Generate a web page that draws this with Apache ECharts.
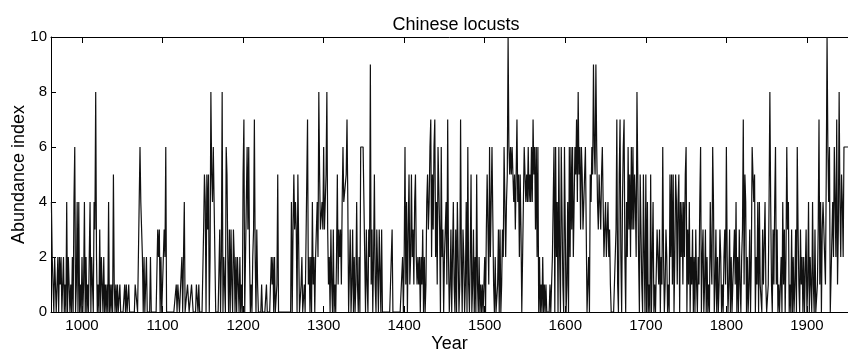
<!DOCTYPE html>
<html>
<head>
<meta charset="utf-8">
<script src="https://cdn.jsdelivr.net/npm/echarts@6/dist/echarts.min.js"></script>
<style>
html,body{margin:0;padding:0;background:#fff;}
#chart{width:848px;height:352px;}
</style>
</head>
<body>
<div id="chart"></div>
<script>
// Yearly abundance index, one array per century (first year of each array noted)
const startYear = 962;
const y0962 = [4,2,2,0,2,1,0,1,2,0, 2,1,2,0,1,2,0,1,0,4, 0,2,1,0,1,0,2,0,4,6, 0,1,4,0,4,0,1,0];
const y1000 = [2,0,1,4,0,2,0,1,0,2, 4,0,2,1,0,4,3,8,2,0, 1,0,3,0,2,1,0,2,0,1, 0,1,0,4,0,1,0,1,0,5,
               1,0,1,0,1,0,0,1,0,0, 0,0,0,1,0,1,0,0,1,0, 0,0,0,0,0,0,1,1,1,0, 0,4,6,4,3,2,0,2,0,0,
               2,0,0,0,0,2,0,0,0,0, 0,0,0,0,3,2,3,0,2,0];
const y1100 = [0,0,3,2,6,0,0,0,0,0, 0,0,0,0,0,0,0,1,0,1, 1,0,0,0,2,0,2,4,0,0, 0,1,1,0,0,0,1,1,0,0,
               0,0,1,1,0,1,0,0,0,0, 0,3,5,4,0,5,3,5,0,2, 8,5,4,6,4,2,0,0,0,0, 0,3,0,2,8,0,2,1,0,6,
               5,2,0,3,0,3,1,0,3,2, 0,2,0,2,1,0,2,0,1,0];
const y1200 = [5,7,0,2,4,6,3,6,2,0, 1,0,2,3,7,2,0,3,1,0, 0,0,0,1,0,0,0,0,0,1, 0,0,0,0,0,2,1,2,0,2,
               0,0,1,5,0,0,0,0,0,0, 0,0,0,0,0,0,0,0,0,0, 4,0,3,5,3,4,3,0,5,5, 0,0,1,2,0,0,1,0,0,0,
               7,1,2,0,2,0,4,1,2,0, 2,3,4,2,8,5,3,3,4,3];
const y1300 = [6,3,3,5,8,3,1,2,0,3, 1,0,3,0,1,0,2,5,1,3, 2,3,1,4,6,4,4,4,5,7, 4,0,0,3,0,1,3,0,2,0,
               1,4,1,0,2,0,6,6,6,6, 6,2,0,3,1,0,3,2,9,1, 3,0,2,5,1,0,3,3,0,3, 3,0,3,0,0,0,0,0,0,0,
               0,0,0,0,0,3,0,0,0,0, 0,0,0,0,0,0,0,0,2,0];
const y1400 = [2,6,1,4,0,3,5,1,2,5, 2,3,1,4,5,2,1,2,1,2, 0,2,1,3,0,2,0,1,4,5, 3,4,6,7,2,5,3,6,7,2,
               4,1,6,6,3,0,6,2,3,0, 2,3,4,1,7,2,0,1,3,0, 2,4,1,0,3,0,4,2,0,1, 7,2,0,3,2,0,1,4,0,6,
               1,0,2,5,0,1,3,0,2,0, 5,1,0,2,0,1,0,1,0,1];
const y1500 = [2,0,3,5,5,1,6,2,4,6, 6,1,0,2,0,0,1,3,0,3, 0,1,3,2,6,4,2,4,5,10, 6,5,6,5,6,5,4,5,3,5,
               7,4,5,2,5,3,0,0,4,6, 5,4,5,4,6,4,5,4,6,4, 7,5,6,3,6,2,6,0,2,0, 1,0,2,0,1,0,1,0,0,0,
               0,1,0,0,2,4,6,0,6,2, 4,0,6,2,0,6,6,1,0,6];
const y1600 = [6,0,1,4,0,6,2,6,3,6, 2,4,6,5,7,4,8,5,6,3, 6,5,3,4,5,6,3,0,0,2, 0,5,4,6,5,9,6,5,9,6,
               4,3,5,4,3,5,6,4,2,3, 4,2,3,4,2,3,1,0,0,0, 0,0,0,3,7,1,0,5,7,2, 0,4,6,7,2,0,4,2,6,3,
               5,2,6,3,6,3,5,4,2,8, 5,2,0,5,3,1,0,5,2,0];
const y1700 = [5,0,4,0,1,0,5,0,2,4, 0,1,0,0,3,2,1,3,0,2, 1,6,2,0,1,3,2,0,1,0, 5,2,5,1,5,0,2,5,4,1,
               4,5,0,4,2,4,1,4,2,5, 6,0,3,1,4,0,2,1,3,0, 2,0,3,1,0,2,1,4,6,0, 2,3,0,1,3,0,2,0,1,0,
               4,2,1,6,4,0,1,3,0,2, 0,1,3,2,0,1,0,2,3,1];
const y1800 = [6,2,0,1,3,0,2,0,0,0, 3,1,4,0,2,0,3,1,0,2, 3,7,1,5,4,0,2,0,1,3, 0,2,6,5,4,5,0,2,1,4,
               0,4,1,1,0,3,1,1,4,1, 0,0,1,4,8,4,1,0,3,1, 4,6,1,3,0,1,0,0,2,0, 4,1,3,0,2,6,3,4,0,1,
               0,3,0,2,0,1,3,0,6,3, 1,0,3,1,2,0,2,0,0,3];
const y1900 = [0,1,4,0,2,1,0,4,1,0, 3,0,0,1,3,7,1,4,0,3, 4,4,4,1,5,10,6,4,6,0, 0,0,4,2,6,4,2,7,1,3,
               8,4,2,5,4,2,6,6,6,6, 6,6];
const tickYears = [1000,1100,1200,1300,1400,1500,1600,1700,1800,1900];
const yTicks = [0,2,4,6,8,10];

const values = [].concat(y0962,y1000,y1100,y1200,y1300,y1400,y1500,y1600,y1700,y1800,y1900);
const seriesData = values.map((v,i)=>[startYear+i, v]);

const font = 'Liberation Sans, Arial, Helvetica, sans-serif';
const chart = echarts.init(document.getElementById('chart'), null, {renderer:'canvas'});
const axisCommon = {
  type:'value', min:961.5, max:1951,
  axisLine:{show:true, lineStyle:{color:'#000', width:1}},
  axisTick:{show:true, inside:true, length:6, customValues:tickYears, lineStyle:{color:'#000'}},
  splitLine:{show:false}
};
chart.setOption({
  animation:false,
  backgroundColor:'#fff',
  title:{text:'Chinese locusts', left:451, top:11, textAlign:'center',
         textStyle:{fontFamily:font, fontSize:18, fontWeight:'normal', color:'#000'}},
  grid:{left:51, right:0, top:37, bottom:40, containLabel:false, outerBoundsMode:'none'},
  xAxis:[
    Object.assign({}, axisCommon, {position:'bottom',
      axisLabel:{show:true, customValues:tickYears, formatter:v=>String(v),
        fontFamily:font, fontSize:15, color:'#000', margin:6},
      name:'Year', nameLocation:'middle', nameGap:23, nameMoveOverlap:false,
      nameTextStyle:{fontFamily:font, fontSize:18, color:'#000'}}),
    Object.assign({}, axisCommon, {position:'top', axisLabel:{show:false}})
  ],
  yAxis:{type:'value', min:0, max:10, interval:2,
    axisLine:{show:true, lineStyle:{color:'#000', width:1}},
    axisTick:{show:true, inside:true, length:5, lineStyle:{color:'#000'}},
    axisLabel:{fontFamily:font, fontSize:15, color:'#000', margin:4,
      customValues:yTicks, formatter:v=>String(v)},
    splitLine:{show:false},
    name:'Abundance index', nameLocation:'middle', nameGap:23, nameRotate:90, nameMoveOverlap:false,
    nameTextStyle:{fontFamily:font, fontSize:18, color:'#000'}},
  series:[{type:'line', xAxisIndex:0, data:seriesData, showSymbol:false, symbol:'none',
    lineStyle:{color:'#111', width:1.2}, clip:true}]
});
</script>
</body>
</html>
